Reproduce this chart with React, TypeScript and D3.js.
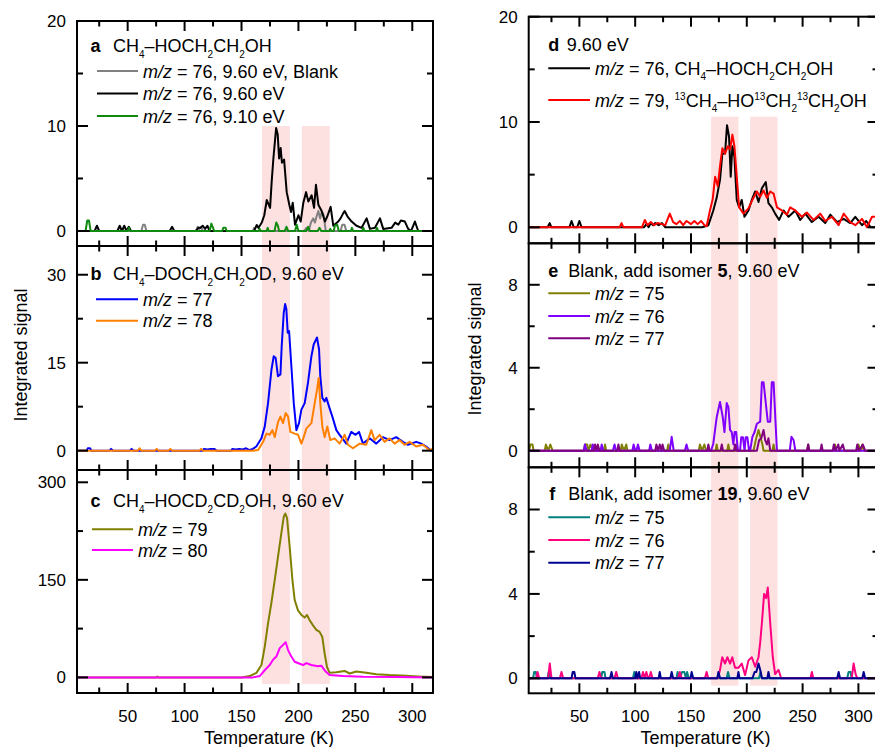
import React from 'react';
import * as d3 from 'd3';

// [temperature (K), integrated signal]
const a76blank = [[5,0],[62,0],[63.5,0.6],[65,0.6],[66.5,0],[110,0],[111.5,0.4],[113,0.2],[114.5,0.4],[116,0],[160,0],[161,0.3],[162,0],[205,0],[207,0.3],[209,0],[211,0.8],[213,1.2],[214.5,0.8],[216,1.4],[217.5,1.9],[219,1.2],[220.5,1.8],[222,1.6],[224,0],[237,0],[238.5,0.6],[240.5,0.6],[242,0],[318,0]];
const a76 = [[5,0],[21,0],[23,0.5],[25,0],[41,0],[43,0.5],[45,0],[47,0.5],[49,0],[51,0.4],[53,0],[87,0],[89,0.4],[91,0],[110,0],[112,0.3],[114,0.3],[116,0.5],[118,0.2],[120,0.5],[122,0],[161,0],[163.4,0.57],[165,0.3],[167.8,0.8],[170,1.5],[172.2,2.95],[175.1,2.2],[176.5,4.7],[178,6.9],[180.4,9.8],[181.8,9.2],[183,6.9],[184.4,7.9],[185.5,6.5],[187.4,6.8],[189.7,3.7],[192,2.5],[193.5,1.8],[195,2.7],[197,0.6],[200,1.5],[202,0.9],[204.3,2.7],[206.7,3.7],[208.7,2.8],[211.6,3.4],[213.7,2.2],[215.4,4.4],[217.5,2.5],[220.4,1.9],[223.3,0.9],[225.4,1.4],[228.3,2.3],[230.6,0.5],[235,0.9],[237,1.2],[239.4,1.7],[240.6,1.9],[243,1.4],[246.7,0.9],[251,0.5],[255.5,0.3],[259.9,1.2],[262.8,0.2],[267.2,0.3],[271.6,1.2],[274.5,0.2],[281.8,0.3],[285,0.8],[287.7,0.6],[290,1.0],[293.5,0.9],[296.4,0.2],[299,0],[302.3,0.9],[305.2,0],[318,0]];
const a76low = [[5,0],[13,0],[14.5,1.0],[16,1.0],[17.5,0],[50,0],[51,0.3],[52,0],[122,0],[123.5,0.7],[125,0.3],[126,0],[133,0],[134,0.3],[136,0.3],[137,0],[165,0],[166,0.2],[167,0],[172,0],[173,0.3],[174,0],[179,0],[180.5,0.8],[182,0.5],[183,0],[188,0],[189.5,0.4],[191,0],[197,0],[198.5,0.6],[200,0],[207,0],[208.5,0.4],[210,0],[217,0],[218.5,0.3],[220,0],[227,0],[228,0.2],[229,0],[231,0],[232,0.5],[234,0.6],[235.5,0],[246,0],[247,0.3],[248,0],[256,0],[257,0.3],[258,0],[268,0],[269,0.3],[270,0],[318,0]];

const b77 = [[5,0],[14,0],[15,0.4],[17,0.4],[18,0],[34,0],[35.5,0.3],[37,0],[52,0],[53.5,0.3],[55,0],[116,0],[117,0.3],[120,0.2],[123,0.3],[126,0.3],[128,0],[141,0],[142,0.3],[145,0.2],[148,0.3],[151,0.2],[154,0.4],[157,0.1],[160,0.3],[163,0.7],[167.5,2.1],[170.4,4.1],[173.3,8.1],[176.3,13.8],[178.3,16.1],[180,15.8],[182,12.7],[184.2,13],[185.3,17.8],[187.1,23.5],[188.3,25],[189.4,24.1],[190.6,20.1],[191.8,20.4],[193.8,14.4],[195.9,8.1],[198.2,3.5],[200.5,4.7],[202.6,7],[205.5,8.1],[208.4,11.6],[211.4,16.1],[213.4,18.1],[216.3,19.3],[218.1,17.3],[219.2,12.7],[221,9],[223,8.4],[224.5,9],[226.9,7.5],[229.8,5.8],[233.3,3.5],[236.2,2.7],[239.7,1.8],[242,1.2],[246.4,3.2],[250.2,2.7],[253.2,3.2],[256.7,1.2],[262.5,2.1],[268.4,1.2],[274.2,2.3],[280,1.8],[285.9,2.3],[291.8,1.5],[296.1,1],[303.5,1.5],[307.9,1.2],[312.2,0.7],[316.6,0],[318,0]];
const b78 = [[5,0],[59,0],[60.5,0.4],[62,0],[74,0],[75.5,0.3],[77,0],[86,0],[87.5,0.3],[89,0],[113,0],[114.5,0.3],[116,0],[160,0],[164.6,0.1],[169,1.5],[171.9,2.9],[174.8,2.7],[177.1,3.5],[179.2,2.3],[182.1,4.9],[184.2,5.8],[186.5,4.7],[188.8,6.4],[190.9,5.8],[192.9,3.2],[196.7,2.9],[199.7,2.7],[202.6,1.2],[204.6,2.3],[207,3.8],[211.4,4.7],[214.3,8.1],[216.3,10.4],[217.8,12.4],[219.2,8.1],[221,4.1],[223,2.3],[225.4,4.1],[228,1.8],[231.8,2.1],[236.2,1.2],[240.6,2.7],[243.5,1],[247.9,0.4],[253.8,1.2],[259.6,1],[264,3.5],[266.9,1.8],[271.3,2.7],[275.7,1.5],[280,2.1],[284.5,1.2],[288.8,1.8],[293.2,1],[297.6,1.5],[303.5,0.7],[309.3,1],[315,0.1],[318,0.3]];

const c79 = [[5,0],[75,0],[76,1.5],[77,0],[150,0],[157.2,2],[163.1,7],[167.5,19],[170.4,47],[173.3,83],[176.2,114],[179.2,150],[182.1,186],[185,222],[187.1,247],[188.5,252],[190,245],[192.3,201],[194.7,150],[196.7,119],[199.6,103],[202.6,96],[205.5,92],[207.5,96],[209.9,88],[212.8,80],[215.7,73],[218.6,70],[221,62],[223,37],[225.1,16],[227.4,7],[233.3,8],[240.6,10],[245,6],[250.8,9],[259.6,7],[268.4,5],[280,3.6],[294.7,2.6],[305,1.5],[318,0.5]];
const c80 = [[5,0],[160,0],[166,2],[170.4,11],[174.8,19],[177.7,27],[180.6,32],[183.6,45],[186.5,50],[188.8,54],[190.9,42],[193.8,32],[196.7,24],[201.1,21],[204,19],[207,22],[211.3,19],[217.2,17],[220.1,18],[223.9,9],[227.4,3.6],[239.1,2],[256.7,1],[286,0.5],[318,0]];

const d76 = [[5,0],[21.5,0],[23.4,0.4],[25,0],[41,0],[43,0.6],[45,0],[48,0],[50,0.6],[52,0],[108,0],[110,0.3],[112,0],[114,0.4],[116,0.2],[118,0.4],[121,0.2],[124,0.4],[127,0],[160,0],[165.6,0.2],[170,1.6],[173,2.8],[176,4.5],[178.1,7],[180.5,7],[182.3,9.7],[184.1,8.6],[185.6,4.8],[187.1,7.7],[188.9,6.7],[191,2.6],[193.1,1.9],[195.5,2.6],[197.9,1],[201.5,1.6],[204.5,2.6],[207.5,3.4],[210.5,2.4],[213.5,3.7],[217,4.3],[219.4,2.3],[222.4,1.9],[225.4,1.3],[229,0.7],[232.9,1.6],[237.4,1],[243.4,1.6],[247.9,0.7],[252.4,1.3],[258.3,0.5],[264.3,1],[270.3,0.4],[274.8,1.2],[280.8,0.5],[286.8,0.8],[292.7,0.4],[297.2,1],[303.2,0.2],[307,0.6],[311,0],[318,0]];
const d79 = [[5,0],[86,0],[87.8,0.4],[89.5,0],[106,0],[108.7,0.7],[111,0.2],[114,0.5],[117,0.2],[120,0.4],[124,0.3],[127,0.2],[131,1.3],[134,0.5],[137,0.3],[140,0.6],[143,0.2],[146,0.6],[150,0.3],[153,0.6],[156,0.3],[159,0.6],[162,0.2],[164,0.1],[167,1.6],[169.5,2.7],[171.6,4.8],[174,3.9],[176,5.8],[178.1,7.5],[180.5,7],[183,7.7],[185,7.4],[187.1,8.8],[188.9,7.7],[191,4.8],[193.1,1.9],[197,1.3],[201.5,1.8],[205,2.6],[209,3.4],[212,2.9],[215,3.5],[218,2.8],[221,3.4],[224,3.2],[227,1.9],[231.4,1.6],[236,1.2],[238.9,1.9],[243.4,1.6],[249.4,1],[253.9,1.4],[259.8,0.7],[265.8,1.3],[270.3,0.6],[276.3,1.0],[282.3,0.2],[286.8,1.3],[292.7,0.5],[297.2,0.2],[303.2,0.8],[307.7,0],[312.2,1.0],[316.7,1.0],[318,0.8]];

const e75 = [[5,0],[6,0.3],[8,0.3],[9,0],[19,0],[20,0.3],[22,0],[24,0.3],[26,0],[54,0],[55,0.3],[57,0.3],[58,0],[60,0.3],[62,0],[72,0],[73,0.3],[74,0],[87,0],[88,0.3],[90,0],[92,0.3],[93,0],[128.5,0],[129.7,0.3],[131,0],[157,0],[158,0.3],[160,0],[162,0.3],[163.5,0],[172,0],[173,0.3],[174,0],[182.5,0],[183.5,0.3],[184.5,0],[190,0],[191,0.3],[192,0],[206,0],[208,0.5],[210.5,1.0],[212.5,0.6],[214,0.3],[215,0],[223,0],[224,0.3],[225,0],[254,0],[255,0.3],[256,0],[278,0],[279,0.3],[280,0],[299,0],[300,0.3],[302,0],[303.5,0.3],[305,0],[318,0]];
const e76 = [[5,0],[54,0],[55,0.3],[56.5,0],[61,0],[62,0.3],[63.5,0],[69,0],[70,0.3],[71.5,0],[80,0],[81.5,0.3],[83,0],[97.5,0],[98.6,0.3],[100,0],[101,0],[102.5,0.3],[104,0],[112.5,0],[113.6,0.3],[115,0],[131,0],[132.7,0.67],[134.5,0],[144.5,0],[146,0.3],[147.5,0],[168,0],[170,0.35],[173,1.6],[176,2.35],[178.5,1.6],[180,0.9],[182,2.3],[183.5,2.1],[185,1.0],[186.5,0.9],[188,0.3],[189,0.9],[190.5,0.9],[192,0],[194,0],[195,0.65],[196.5,0.65],[198,0],[199,0.65],[200.5,0.65],[202,0],[203,0],[205,0.67],[207,0.9],[209,1.3],[212,1.4],[213.5,3.3],[215,3.3],[218.8,1.4],[221,1.4],[222.4,3.3],[224,3.3],[227,0],[238.5,0],[240,0.67],[242,0.5],[243.5,0],[318,0]];
const e77 = [[5,0],[63,0],[64,0.3],[65.5,0],[66.5,0.3],[68,0],[84,0],[85,0.3],[86,0],[118,0],[119,0.3],[120.5,0],[122,0.3],[123.5,0],[124.5,0.3],[126,0],[164.5,0],[165.6,0.3],[166.7,0],[176.5,0],[177.6,0.3],[178.7,0],[188.5,0],[189.5,0.3],[190.5,0],[209,0],[211,0.5],[213,0.6],[215,1.0],[216.5,0.5],[218,0.3],[219.4,0.6],[221,0],[254,0],[255,0.3],[256,0],[266,0],[267,0.3],[268,0],[277,0],[278,0.3],[279.5,0],[282,0.3],[283,0],[286,0.3],[287.5,0],[298,0],[299,0.3],[300.5,0],[304,0.3],[306,0],[318,0]];

const f75 = [[5,0],[8.5,0],[9.5,0.3],[11,0.3],[12,0],[21.5,0],[22.5,0.3],[24,0],[69.5,0],[70.5,0.3],[72.5,0.3],[73.5,0],[98,0],[99.2,0.3],[100.5,0],[137,0],[138,0.3],[140,0],[142,0.3],[144,0.3],[145.5,0],[146.5,0.3],[148,0],[182,0],[183.2,0.3],[184.5,0],[211,0],[212.2,0.3],[213.5,0],[290,0],[291.2,0.3],[293,0.3],[294,0],[318,0]];
const f76 = [[5,0],[11.5,0],[12.5,0.3],[14,0],[22,0],[23.5,0.7],[25,0],[32.5,0],[34,0.3],[35.5,0],[66.5,0],[68,0.3],[69.5,0],[81.5,0],[83,0.3],[84.5,0],[105.5,0],[107,0.3],[108.5,0],[110,0.3],[111.5,0],[112.5,0],[114,0.3],[115.5,0],[138.5,0],[140,0.3],[141.5,0],[162.5,0],[164,0.3],[165.5,0],[174,0],[176,0.4],[178,1.0],[180.5,0.7],[182.6,1.0],[185,0.7],[187,1.0],[189.5,0.5],[192.5,0.5],[195.5,0.7],[198.5,0.15],[201.5,0.85],[204.5,1.0],[207.5,0.55],[210.5,1.0],[212,1.7],[213.5,2.6],[215.5,4.0],[217.3,3.8],[218.8,4.3],[221,2.6],[223.3,1.0],[225.4,0.2],[228.4,0.4],[230.8,0],[257,0],[258.3,0.3],[259.6,0],[294,0],[295.7,0.7],[297.5,0.2],[299,0],[318,0]];
const f77 = [[5,0],[43,0],[44,0.3],[45.5,0.3],[46.5,0],[77.5,0],[78.8,0.3],[80,0],[100,0],[101,0.3],[102,0],[103.5,0.3],[104.5,0],[121,0],[122,0.3],[123,0],[131.5,0],[132.7,0.3],[134,0],[149.5,0],[150.6,0.3],[152,0],[173.5,0],[174.6,0.3],[176,0],[191.5,0],[192.5,0.3],[193.5,0],[205,0],[207,0.3],[208.5,0.3],[210.5,0.7],[212.5,0.3],[213.5,0],[218.4,0],[219.4,0.3],[220.5,0],[281,0],[282.3,0.3],[283.5,0],[303.5,0],[304.7,0.3],[306,0],[318,0]];

const shadeBands = [[168, 192.5], [203, 227.5]];
const xMajor = [50, 100, 150, 200, 250, 300];
const xMinor = [25, 75, 125, 175, 225, 275];

const FONT = '"Liberation Sans", Arial, Helvetica, sans-serif';

const columns = [
  { x0: 77, x1: 433, domain: [5.5, 318.2], shade: [['a', 10], ['c', -10]], yLabel: [27, 355], xLabelX: 269 },
  { x0: 528.7, x1: 878.5, domain: [4.6, 318], shade: [['d', 10.5], ['f', -0.35]], yLabel: [481, 349], xLabelX: 705.5 },
];

const panels = [
  {
    key: 'a', col: 0, top: 21, bottom: 246, domain: [-1.43, 20], major: [0, 10, 20], minor: [5, 15],
    title: 'CH_4–HOCH_2CH_2OH', lx: 13.5, tx: 36, ty: 31, rows: [50, 72.5, 95], lineX: [20, 61], textX: 66,
    series: [
      { data: a76blank, color: '#808080', label: '~m/z~ = 76, 9.60 eV, Blank' },
      { data: a76, color: '#000000', label: '~m/z~ = 76, 9.60 eV' },
      { data: a76low, color: '#108a10', label: '~m/z~ = 76, 9.10 eV' },
    ],
  },
  {
    key: 'b', col: 0, top: 246, bottom: 470, domain: [-3.3, 34.9], major: [0, 15, 30], minor: [7.5, 22.5],
    title: 'CH_4–DOCH_2CH_2OD, 9.60 eV', lx: 13.5, tx: 36, ty: 34, rows: [53.3, 74.7], lineX: [19, 61], textX: 66,
    series: [
      { data: b77, color: '#0000ff', label: '~m/z~ = 77' },
      { data: b78, color: '#ff8000', label: '~m/z~ = 78' },
    ],
  },
  {
    key: 'c', col: 0, top: 470, bottom: 693, domain: [-24, 318.9], major: [0, 150, 300], minor: [75, 225],
    title: 'CH_4–HOCD_2CD_2OH, 9.60 eV', lx: 13.5, tx: 36, ty: 37, rows: [59.3, 80], lineX: [15, 56], textX: 61,
    series: [
      { data: c79, color: '#808000', label: '~m/z~ = 79' },
      { data: c80, color: '#ff00ff', label: '~m/z~ = 80' },
    ],
  },
  {
    key: 'd', col: 1, top: 16.7, bottom: 243.3, domain: [-1.52, 20], major: [0, 10, 20], minor: [5, 15],
    title: '9.60 eV', lx: 19.6, tx: 38, ty: 34, rows: [51.6, 83.3], lineX: [19.6, 61.3], textX: 66.3,
    series: [
      { data: d76, color: '#000000', label: '~m/z~ = 76, CH_4–HOCH_2CH_2OH' },
      { data: d79, color: '#ff0000', label: '~m/z~ = 79, ^13CH_4–HO^13CH_2^13CH_2OH' },
    ],
  },
  {
    key: 'e', col: 1, top: 243.3, bottom: 467.3, domain: [-0.8, 10], major: [0, 4, 8], minor: [2, 6],
    title: 'Blank, add isomer *5*, 9.60 eV', lx: 19.6, tx: 39.6, ty: 33.4, rows: [50, 72.7, 95], lineX: [19.6, 61.3], textX: 66.3,
    series: [
      { data: e75, color: '#808000', label: '~m/z~ = 75' },
      { data: e76, color: '#8000ff', label: '~m/z~ = 76' },
      { data: e77, color: '#800080', label: '~m/z~ = 77' },
    ],
  },
  {
    key: 'f', col: 1, top: 467.3, bottom: 693.3, domain: [-0.71, 10], major: [0, 4, 8], minor: [2, 6],
    title: 'Blank, add isomer *19*, 9.60 eV', lx: 20.6, tx: 39.6, ty: 32.7, rows: [50, 72.7, 95.4], lineX: [19.6, 61.3], textX: 66.3,
    series: [
      { data: f75, color: '#008080', label: '~m/z~ = 75' },
      { data: f76, color: '#ff0080', label: '~m/z~ = 76' },
      { data: f77, color: '#000090', label: '~m/z~ = 77' },
    ],
  },
];

// tiny markup: _12 subscript, ^13 superscript, *x* bold, ~x~ italic
function Rich({ s, x, y, size = 18 }: { s: string; x: number; y: number; size?: number }) {
  const tokens = s.match(/(_\d+|\^\d+|\*[^*]+\*|~[^~]+~|[^_^*~]+)/g) || [];
  let shift = 0;
  const spans = tokens.map((tk, i) => {
    let kind = 'n';
    let text = tk;
    if (tk[0] === '_') { kind = 'sub'; text = tk.slice(1); }
    else if (tk[0] === '^') { kind = 'sup'; text = tk.slice(1); }
    else if (tk[0] === '*') { kind = 'b'; text = tk.slice(1, -1); }
    else if (tk[0] === '~') { kind = 'i'; text = tk.slice(1, -1); }
    const target = kind === 'sub' ? 5.5 : kind === 'sup' ? -7 : 0;
    const dy = target - shift;
    shift = target;
    return (
      <tspan key={i} dy={dy || undefined}
        fontSize={kind === 'sub' || kind === 'sup' ? 10 : undefined}
        fontWeight={kind === 'b' ? 'bold' : undefined}
        fontStyle={kind === 'i' ? 'italic' : undefined}
        style={{ whiteSpace: 'pre' }}>{text}</tspan>
    );
  });
  return <text x={x} y={y} fontSize={size} style={{ whiteSpace: 'pre' }}>{spans}</text>;
}

export default function App() {
  const xScales = columns.map((c) => d3.scaleLinear().domain(c.domain).range([c.x0, c.x1]));
  const yScales: Record<string, d3.ScaleLinear<number, number>> = {};
  panels.forEach((p) => {
    yScales[p.key] = d3.scaleLinear().domain(p.domain).range([p.bottom, p.top]);
  });

  return (
    <svg width={875} height={747} style={{ position: 'absolute', left: 0, top: 0, background: '#fff' }}
      fontFamily={FONT}>
      {/* shaded temperature windows */}
      {columns.map((c, ci) => {
        const x = xScales[ci];
        const yTop = yScales[c.shade[0][0]](c.shade[0][1] as number);
        const yBot = yScales[c.shade[1][0]](c.shade[1][1] as number);
        return shadeBands.map((b, bi) => (
          <rect key={`s${ci}${bi}`} x={x(b[0])} y={yTop} width={x(b[1]) - x(b[0])} height={yBot - yTop} fill="#fde1e1" />
        ));
      })}

      {panels.map((p) => {
        const c = columns[p.col];
        const x = xScales[p.col];
        const y = yScales[p.key];
        const line = d3.line<number[]>().x((d) => x(d[0])).y((d) => y(d[1]));
        return (
          <g key={p.key}>
            {p.series.map((s, i) => (
              <path key={i} d={line(s.data) || ''} fill="none" stroke={s.color} strokeWidth={2} strokeLinejoin="round" />
            ))}
            <rect x={c.x0} y={p.top} width={c.x1 - c.x0} height={p.bottom - p.top} fill="none" stroke="#000" strokeWidth={2} />
            {/* x ticks, inward on top and bottom */}
            {[...xMajor.map((t) => [t, 10]), ...xMinor.map((t) => [t, 5.5])].map(([t, len], i) => (
              <g key={`xt${i}`} stroke="#000" strokeWidth={2}>
                <line x1={x(t)} x2={x(t)} y1={p.top} y2={p.top + len} />
                <line x1={x(t)} x2={x(t)} y1={p.bottom} y2={p.bottom - len} />
              </g>
            ))}
            {/* y ticks, inward on left and right */}
            {[...p.major.map((t) => [t, 11]), ...p.minor.map((t) => [t, 6])].map(([t, len], i) => (
              <g key={`yt${i}`} stroke="#000" strokeWidth={2}>
                <line x1={c.x0} x2={c.x0 + len} y1={y(t)} y2={y(t)} />
                <line x1={c.x1} x2={c.x1 - len} y1={y(t)} y2={y(t)} />
              </g>
            ))}
            {p.major.map((t) => (
              <text key={`yl${t}`} x={c.x0 - 11} y={y(t)} dy="0.35em" textAnchor="end" fontSize={17}>{t}</text>
            ))}
            {/* legend */}
            <text x={c.x0 + p.lx} y={p.top + p.ty} fontSize={18} fontWeight="bold">{p.key}</text>
            <Rich s={p.title} x={c.x0 + p.tx} y={p.top + p.ty} />
            {p.series.map((s, i) => (
              <g key={`lg${i}`}>
                <line x1={c.x0 + p.lineX[0]} x2={c.x0 + p.lineX[1]} y1={p.top + p.rows[i]} y2={p.top + p.rows[i]}
                  stroke={s.color} strokeWidth={2} />
                <Rich s={s.label} x={c.x0 + p.textX} y={p.top + p.rows[i] + 6.5} />
              </g>
            ))}
          </g>
        );
      })}

      {/* bottom axis labels */}
      {columns.map((c, ci) => (
        <g key={`xa${ci}`}>
          {xMajor.map((t) => (
            <text key={t} x={xScales[ci](t)} y={722} textAnchor="middle" fontSize={17}>{t}</text>
          ))}
          <text x={c.xLabelX} y={744} textAnchor="middle" fontSize={18}>Temperature (K)</text>
          <text transform={`translate(${c.yLabel[0]},${c.yLabel[1]}) rotate(-90)`} textAnchor="middle" fontSize={18}>
            Integrated signal
          </text>
        </g>
      ))}
    </svg>
  );
}
